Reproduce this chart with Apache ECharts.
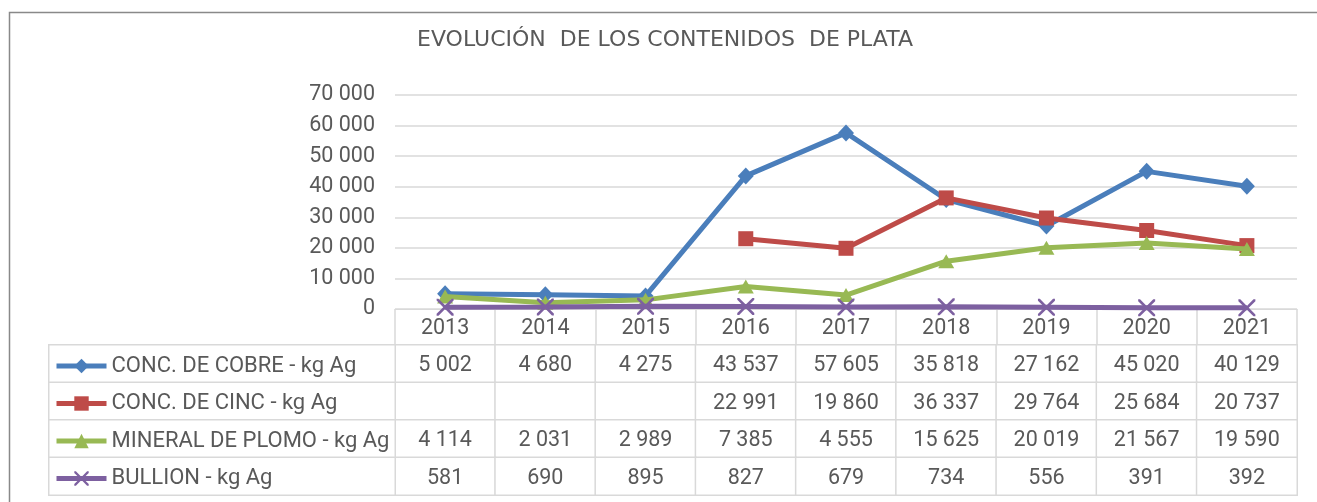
<!DOCTYPE html>
<html><head><meta charset="utf-8">
<script src="https://cdn.jsdelivr.net/npm/echarts@6/dist/echarts.min.js"></script>
<style>html,body{margin:0;padding:0;background:#fff}#c{width:1317px;height:502px}</style>
</head><body><div id="c"></div>
<script>
const years = ['2013','2014','2015','2016','2017','2018','2019','2020','2021'];
const cobre = [5002,4680,4275,43537,57605,35818,27162,45020,40129];
const cinc = [null,null,null,22991,19860,36337,29764,25684,20737];
const plomo = [4114,2031,2989,7385,4555,15625,20019,21567,19590];
const bullion = [581,690,895,827,679,734,556,391,392];
const seriesNames = ['CONC. DE COBRE - kg Ag','CONC. DE CINC - kg Ag','MINERAL DE PLOMO - kg Ag','BULLION - kg Ag'];
const titleText = 'EVOLUCIÓN  DE LOS CONTENIDOS  DE PLATA';

const FONT = 'Roboto, "Liberation Sans", sans-serif';
const TFONT = '"DejaVu Sans", Roboto, sans-serif';
const TXT = '#595959';
const GRID = '#D9D9D9';
const colors = ['#4A7EBB','#BE4B48','#98B954','#7D60A0'];
const rows = [cobre, cinc, plomo, bullion];
const fmt = v => (v === null || v === undefined) ? '' : String(v).replace(/\B(?=(\d{3})+(?!\d))/g, ' ');

const tableData = [];
rows.forEach((arr, r) => arr.forEach((v, c) => tableData.push([c, r, v === null ? 0 : v])));
const nameCells = seriesNames.map((n, r) => [0, r, 0]);

const xSymbol = 'path://M0,0 L1.1,0 L5,3.9 L8.9,0 L10,0 L10,1.1 L6.1,5 L10,8.9 L10,10 L8.9,10 L5,6.1 L1.1,10 L0,10 L0,8.9 L3.9,5 L0,1.1 Z';
const symbols = ['diamond','rect','triangle',xSymbol];
const symbolSizes = [[16,17],[15,15],[16,14],[17,17]];

const chart = echarts.init(document.getElementById('c'), null, {renderer:'canvas'});
chart.setOption({
  animation: false,
  backgroundColor: '#fff',
  textStyle: {fontFamily: FONT},
  title: {
    text: titleText, left: 417, top: 29, padding: 0,
    textStyle: {fontFamily: TFONT, fontSize: 22, fontWeight: 'normal', color: TXT}
  },
  graphic: [{
    type: 'rect', left: 7, top: 10, silent: true, z: -10,
    shape: {width: 1330, height: 510},
    style: {fill: 'none', stroke: '#898989', lineWidth: 1.5}
  }],
  legend: {
    orient: 'vertical', left: 54, top: 355, padding: 0,
    itemWidth: 50, itemHeight: 18, itemGap: 15.5,
    selectedMode: false,
    data: seriesNames,
    lineStyle: {width: 5},
    textStyle: {fontFamily: FONT, fontSize: 22, lineHeight: 22, color: TXT}
  },
  grid: [
    {left: 395, top: 95, width: 902, height: 214},
    {left: 395, top: 345, width: 902, height: 150},
    {left: 49, top: 345, width: 346, height: 150}
  ],
  xAxis: [
    {
      gridIndex: 0, type: 'category', data: years, boundaryGap: true,
      axisLine: {lineStyle: {color: GRID, width: 1}},
      axisTick: {show: true, length: 36, lineStyle: {color: GRID, width: 1.5}},
      axisLabel: {fontFamily: FONT, fontSize: 21.5, color: TXT, margin: 9, interval: 0},
      splitLine: {show: false}
    },
    {gridIndex: 1, type: 'category', data: years, show: false},
    {gridIndex: 2, type: 'category', data: ['n'], show: false}
  ],
  yAxis: [
    {
      gridIndex: 0, type: 'value', min: 0, max: 70000, interval: 10000,
      axisLine: {show: false}, axisTick: {show: false},
      axisLabel: {fontFamily: FONT, fontSize: 21.5, color: TXT, margin: 20, formatter: v => fmt(v)},
      splitLine: {lineStyle: {color: GRID, width: 1.5}}
    },
    {gridIndex: 1, type: 'category', data: ['0','1','2','3'], inverse: true, show: false},
    {gridIndex: 2, type: 'category', data: ['0','1','2','3'], inverse: true, show: false}
  ],
  series: [
    ...seriesNames.map((name, i) => ({
      name, type: 'line', xAxisIndex: 0, yAxisIndex: 0,
      data: rows[i],
      symbol: symbols[i], symbolSize: symbolSizes[i],
      showAllSymbol: true,
      connectNulls: false,
      lineStyle: {color: colors[i], width: 5},
      itemStyle: {color: colors[i], borderWidth: 0},
      emphasis: {disabled: true},
      z: 3 + i
    })),
    {
      type: 'heatmap', xAxisIndex: 1, yAxisIndex: 1, data: tableData,
      itemStyle: {color: '#fff', borderColor: GRID, borderWidth: 1.5},
      label: {
        show: true, fontFamily: FONT, fontSize: 21.5, color: TXT, offset: [0, 2],
        formatter: p => fmt(rows[p.value[1]][p.value[0]])
      },
      emphasis: {disabled: true}, silent: true
    },
    {
      type: 'heatmap', xAxisIndex: 2, yAxisIndex: 2, data: nameCells,
      itemStyle: {color: '#fff', borderColor: GRID, borderWidth: 1.5},
      label: {show: false},
      emphasis: {disabled: true}, silent: true
    }
  ]
});
</script></body></html>
